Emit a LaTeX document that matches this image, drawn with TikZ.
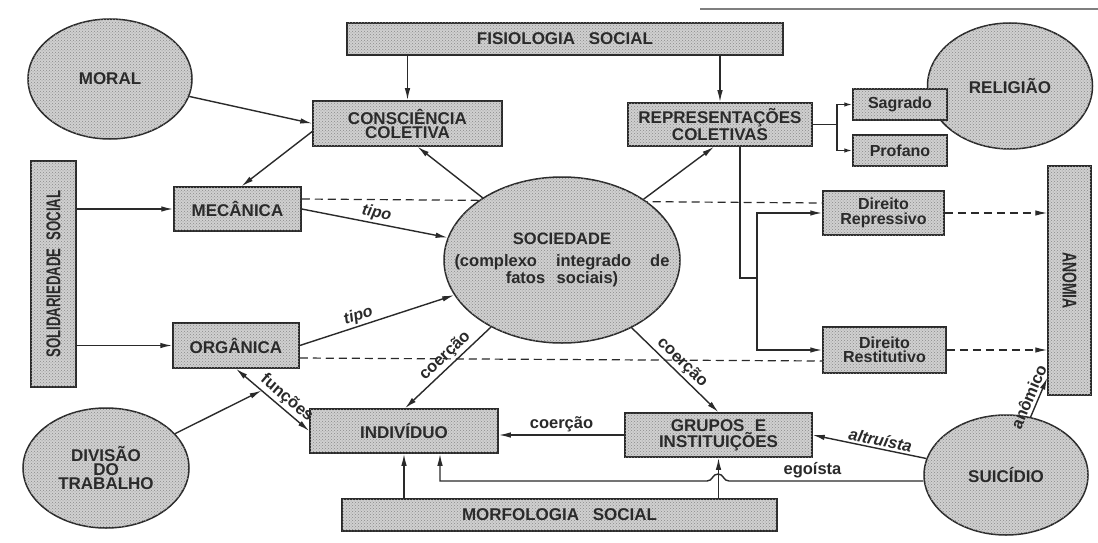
\documentclass[tikz,border=0pt]{standalone}
\usepackage{fontspec}
\setmainfont{Liberation Sans}
\usetikzlibrary{shapes.geometric,arrows.meta,patterns}
\definecolor{ink}{HTML}{2A2A2A}
\definecolor{dotfill}{HTML}{D0D0D0}
\definecolor{dotcol}{HTML}{8A8A8A}
\begin{document}
\begin{tikzpicture}[x=1pt,y=-1pt,
  every node/.style={font=\fontsize{17}{14}\selectfont\bfseries, text=ink},
  shade/.style={fill=dotfill, postaction={pattern=crosshatch dots, pattern color=dotcol}},
  box/.style={draw=ink, line width=1.5pt, shade, rectangle, inner sep=0pt, align=center},
  oval/.style={draw=ink, line width=1.5pt, shade, ellipse, inner sep=0pt, align=center},
  small/.style={font=\fontsize{16}{14.5}\selectfont\bfseries},
  conn/.style={draw=ink, line width=1.4pt},
  tip/.tip={Latex[length=12pt,width=5.5pt]},
  arr/.style={conn, -tip},
  arrsmall/.style={conn, -{Latex[length=8pt,width=4.5pt]}},
  dashline/.style={conn, line width=1.2pt, dash pattern=on 8pt off 5pt},
  lbl/.style={font=\fontsize{16.5}{16}\selectfont\bfseries, inner sep=2pt}
]
\useasboundingbox (0,0) rectangle (1098,543);
\fill[white] (0,0) rectangle (1098,543);
\draw[ink!60, line width=1.2pt] (700,9) -- (1098,9);

% boxes and ovals
\node[oval, minimum width=164pt, minimum height=120pt] (moral) at (110,79) {MORAL};
\node[oval, minimum width=165pt, minimum height=126pt] (rel) at (1010,86) {RELIGIÃO};
\node[box, minimum width=436pt, minimum height=32pt] (fis) at (565,39) {FISIOLOGIA\hspace{0.8em}SOCIAL};
\node[box, minimum width=189pt, minimum height=45pt] (cons) at (407.5,123.5) {CONSCIÊNCIA\\COLETIVA};
\node[box, minimum width=184pt, minimum height=43pt] (rep) at (720,124.5) {REPRESENTAÇÕES\\COLETIVAS};
\node[box, small, minimum width=94pt, minimum height=31pt] (sag) at (900,104.5) {Sagrado};
\node[box, small, minimum width=94pt, minimum height=31pt] (prof) at (900,150.5) {Profano};
\node[box, minimum width=45pt, minimum height=226pt] (sol) at (53.5,274)
  {\rotatebox{90}{\scalebox{0.66}[1]{\fontsize{20}{20}\selectfont SOLIDARIEDADE\hspace{0.6em}SOCIAL}}};
\node[box, minimum width=43pt, minimum height=229pt] (anom) at (1069.5,280.5)
  {\rotatebox{-90}{\scalebox{0.7}[1]{\fontsize{20}{20}\selectfont ANOMIA}}};
\node[box, minimum width=127pt, minimum height=44pt] (mec) at (237.5,209) {MECÂNICA};
\node[box, minimum width=126pt, minimum height=45pt] (org) at (236,345.5) {ORGÂNICA};
\node[box, small, minimum width=121pt, minimum height=44pt] (drep) at (883.5,213) {Direito\\Repressivo};
\node[box, small, minimum width=123pt, minimum height=46pt] (dres) at (884.5,350) {Direito\\Restitutivo};
\node[box, minimum width=188pt, minimum height=44pt] (ind) at (404,431) {INDIVÍDUO};
\node[box, minimum width=187pt, minimum height=44pt] (gru) at (718.5,435) {GRUPOS\hspace{0.6em}E\\INSTITUIÇÕES};
\node[box, minimum width=435pt, minimum height=32pt] (morf) at (559.5,515) {MORFOLOGIA\hspace{0.8em}SOCIAL};
\node[oval, minimum width=166pt, minimum height=120pt] (div) at (106,468) {DIVISÃO\\DO\\TRABALHO};
\node[oval, minimum width=164pt, minimum height=120pt] (sui) at (1006,475) {SUICÍDIO};

% dashed lines (behind the central oval)
\draw[dashline] ([yshift=10pt]mec.east) -- ([yshift=10pt]drep.west);
\draw[dashline] ([yshift=-12.5pt]org.east) -- ([yshift=-11pt]dres.west);
\draw[dashline, -tip] (drep.east) -- (anom.west |- drep.east);
\draw[dashline, -tip] (dres.east) -- (anom.west |- dres.east);

\node[oval, minimum width=236pt, minimum height=166pt,
  label={[align=center, font=\fontsize{16.5}{15}\selectfont\bfseries]center:SOCIEDADE\\[7pt]\makebox[215pt][s]{(complexo integrado de}\\fatos\hspace{0.7em}sociais)}] (soc) at (562,260) {};

% connectors
\draw[arr] (moral) -- (cons.west);
\draw[arr] ([yshift=-8pt]cons.west) -- ([xshift=4pt]mec.north);
\draw[arr] (cons.north |- fis.south) -- (cons.north);
\draw[arr] (rep.north |- fis.south) -- (rep.north);
\draw[arr] (soc) -- ([xshift=10pt]cons.south);
\draw[arr] (soc) -- ([xshift=-6pt]rep.south);
\draw[arr] (sol.east |- mec.west) -- (mec.west);
\draw[arr] (sol.east |- org.west) -- (org.west);
\draw[arr] (mec.east) -- (soc) node[lbl, pos=0.5, sloped, above, font=\fontsize{16}{16}\selectfont\bfseries\itshape] {tipo};
\draw[arr] (org.east) -- (soc) node[lbl, pos=0.4, sloped, above, font=\fontsize{16}{16}\selectfont\bfseries\itshape] {tipo};
\draw[arr] (soc) -- ([xshift=1pt]ind.north) node[lbl, pos=0.45, sloped, above] {coerção};
\draw[arr] (soc) -- (gru.north) node[lbl, pos=0.5, sloped, above] {coerção};
\draw[arr] (gru.west) -- (ind.east |- gru.west) node[lbl, midway, above] {coerção};
\draw[arr] (ind.south |- morf.north) -- (ind.south);
\draw[arr] (gru.south |- morf.north) -- (gru.south);
\draw[arr] (sui) -- (gru.east) node[lbl, pos=0.42, sloped, above, font=\fontsize{16.5}{16}\selectfont\bfseries\itshape] {altruísta};
\coordinate (hr) at (729,481);
\coordinate (hl) at (707,481);
\draw[arr] ([yshift=-6pt]sui.west) -- node[lbl, pos=0.57, above] {egoísta} (hr)
  .. controls (723,481) and (724,474) .. (718,474)
  .. controls (712,474) and (713,481) .. (hl)
  -- ([xshift=36pt]ind.south |- hl) -- ([xshift=36pt]ind.south);
\draw[arr] (sui) -- ([yshift=18pt]anom.south west) node[lbl, pos=0.42, sloped, above, inner sep=3pt] {anômico};
\path (org.south) -- (ind.west) coordinate[pos=0.35] (fmid);
\draw[conn, tip-tip] (org.south) -- (ind.west)
  node[lbl, pos=0.6, sloped, above] {funções};
\draw[arr] (div) -- (fmid);

% branch from representations to law
\coordinate (rb) at (757,278);
\draw[conn] ([xshift=20pt]rep.south) |- (rb);
\draw[arr] (rb) |- (drep.west);
\draw[arr] (rb) |- (dres.west);

% branch to sacred / profane
\coordinate (sb) at (837,124.5);
\draw[conn] (rep.east) -- (sb);
\draw[arrsmall] (sb) |- (sag.west);
\draw[arrsmall] (sb) |- (prof.west);
\end{tikzpicture}
\end{document}
